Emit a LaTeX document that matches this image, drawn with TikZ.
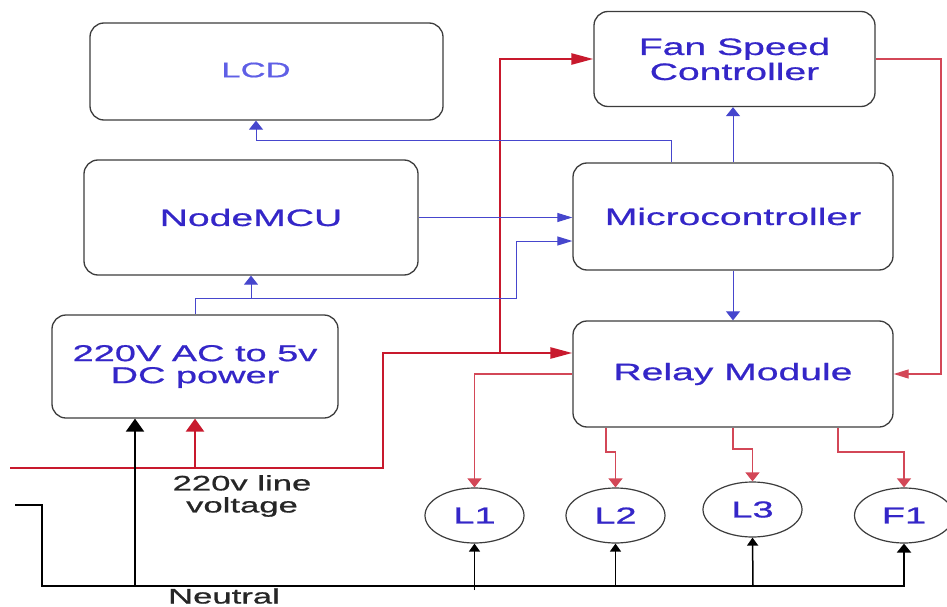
\documentclass[tikz,border=0pt]{standalone}
\usepackage{fontspec}
\setmainfont{Liberation Sans}[FakeStretch=1.65,FakeBold=0.8]
\usetikzlibrary{arrows.meta,shapes.geometric}
\definecolor{txtblue}{RGB}{52,38,200}
\definecolor{lcdblue}{RGB}{95,95,230}
\definecolor{lineblue}{RGB}{70,70,205}
\definecolor{wirered}{RGB}{200,25,45}
\definecolor{boxgray}{RGB}{60,60,60}
\begin{document}
\begin{tikzpicture}[x=1pt,y=-1pt,
  box/.style={draw=boxgray,line width=1.3pt,rounded corners=14pt,text=txtblue,align=center,inner sep=0pt,font=\fontsize{23.7}{25}\selectfont},
  lamp/.style={ellipse,draw=boxgray,line width=1.2pt,minimum width=99pt,minimum height=55pt,inner sep=0pt,text=txtblue,font=\fontsize{23}{25}\selectfont},
  bl/.style={draw=lineblue,line width=1pt},
  rthick/.style={draw=wirered,line width=2.5pt},
  rthin/.style={draw=wirered!80,line width=1.2pt},
  bk/.style={draw=black,line width=2.2pt},
  bkthin/.style={draw=black,line width=1.5pt},
  vtip/.style={-{Triangle[length=9pt,width=14pt]}},
  htip/.style={-{Triangle[length=15pt,width=9pt]}},
  vbig/.style={-{Triangle[length=13pt,width=18pt]}},
  hbig/.style={-{Triangle[length=22pt,width=11pt]}},
  vsm/.style={-{Triangle[length=8pt,width=11pt]}},
  lbl/.style={text=black!85,align=center,inner sep=0pt,font=\fontsize{21}{22}\selectfont}
]
\useasboundingbox (0,0) rectangle (947,607);
\fill[white] (0,0) rectangle (947,607);

% boxes
\node[box,minimum width=353pt,minimum height=97pt] (lcd) at (266.5,71.5) {};
\node[text=lcdblue,inner sep=0pt,font=\fontsize{21}{24}\selectfont] (lcdt) at (256,70) {LCD};
\node[box,minimum width=334pt,minimum height=115pt] (mcu) at (251,217.5) {NodeMCU};
\node[box,minimum width=286pt,minimum height=103pt,font=\fontsize{23}{22}\selectfont] (pwr) at (195,366.5) {220V AC to 5v\\DC power};
\node[box,minimum width=281pt,minimum height=95pt] (fan) at (734.5,59) {Fan Speed\\Controller};
\node[box,minimum width=320pt,minimum height=107pt] (uc) at (733,216.5) {Microcontroller};
\node[box,minimum width=320pt,minimum height=106pt] (relay) at (733,374) {Relay Module};

% loads
\node[lamp] (L1) at (474.5,515.5) {L1};
\node[lamp] (L2) at (615.5,515.5) {L2};
\node[lamp] (L3) at (752.5,509.5) {L3};
\node[lamp] (F1) at (904,515.5) {F1};

% labels
\node[lbl] (lv) at (242,496) {220v line\\voltage};
\node[lbl] (neu) at (224,596) {Neutral};

% red line voltage
\coordinate (lin) at (10,468);
\coordinate (j) at (500,353);
\draw[rthick,hbig] (lin) -| (383,353) -- (relay.west |- j);
\draw[rthick,hbig] (j) |- (fan.west);
\draw[rthick,vbig] (lin -| pwr.south) -- (pwr.south);

% red thin switched lines
\coordinate (rc) at (941,59);
\draw[rthin,htip] (fan.east) -- (rc) |- (relay.east);
\draw[rthin,vtip] (relay.west) -| (L1.north);
\draw[rthin,vtip] (606,0 |- relay.south) |- (L2.north |- 0,452) -- (L2.north);
\draw[rthin,vtip] (relay.south) |- (L3.north |- 0,449) -- (L3.north);
\draw[rthin,vtip] (838,0 |- relay.south) |- (F1.north |- 0,452) -- (F1.north);

% neutral
\coordinate (n0) at (15,505);
\coordinate (n1) at (42,586);
\draw[bk,vtip] (n0) -| (n1) -| (F1.south);
\draw[bk,vbig] (135,586) -- (135,0 |- pwr.south);
\draw[bkthin,vsm] (474.5,590) -- (L1.south);
\draw[bkthin,vsm] (615.5,586) -- (L2.south);
\draw[bkthin,vsm] (753,586) -- (L3.south);

% blue signal lines
\draw[bl,vtip] (uc.north) -- (uc.north |- fan.south);
\draw[bl,vtip] (uc.south) -- (relay.north);
\draw[bl,vtip] (671,0 |- uc.north) |- (256,140) -- (256,0 |- lcd.south);
\draw[bl,htip] (mcu.east) -- (uc.west |- mcu.east);
\draw[bl,htip] (pwr.north) |- (516,298) |- (uc.west |- 0,241);
\draw[bl,vtip] (251,298) -- (mcu.south);
\end{tikzpicture}
\end{document}
